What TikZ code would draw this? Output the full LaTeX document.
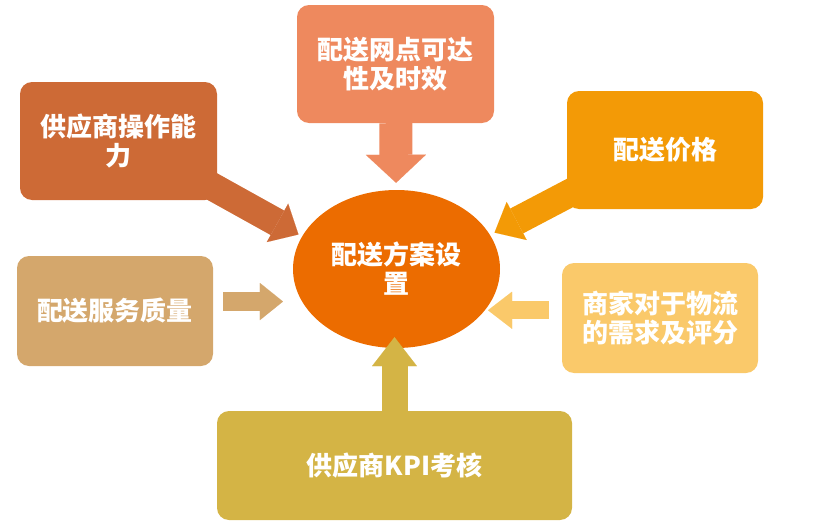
\documentclass[tikz,border=0pt]{standalone}
\usepackage{fontspec}
\newfontfamily\cjk{Noto Sans CJK SC}
\usepackage{tikz}
\usetikzlibrary{arrows.meta,shapes.geometric,backgrounds,calc}
\definecolor{opsc}{RGB}{205,106,54}
\definecolor{netc}{RGB}{238,137,94}
\definecolor{pricec}{RGB}{243,154,6}
\definecolor{demc}{RGB}{250,201,106}
\definecolor{qualc}{RGB}{212,167,108}
\definecolor{kpic}{RGB}{212,180,69}
\definecolor{planc}{RGB}{236,108,0}

\begin{document}
\begin{tikzpicture}[x=1pt,y=-1pt,
    blk/.style n args={4}{draw=#1,line width=#2,
      -{Triangle[width=#3,length=#4,line width=0.01pt]}}]
  \tikzstyle{box}=[rectangle,rounded corners=12pt,text=white,align=center,
    font=\cjk\bfseries\fontsize{26}{29}\selectfont,inner sep=0pt]
  \useasboundingbox (0,0) rectangle (815,530);

  \node[box,fill=opsc,minimum width=197pt,minimum height=118pt] (ops)     at (118.5,141) {供应商操作能\\力};
  \node[box,fill=netc,minimum width=197pt,minimum height=118pt] (net)     at (395.5,64)  {配送网点可达\\性及时效};
  \node[box,fill=pricec,minimum width=196pt,minimum height=118pt] (price) at (665,150)   {配送价格};
  \node[box,fill=demc,minimum width=196pt,minimum height=110pt] (demand)  at (660,318)   {商家对于物流\\的需求及评分};
  \node[box,fill=qualc,minimum width=196pt,minimum height=110pt] (quality) at (115,311)  {配送服务质量};
  \node[box,fill=kpic,minimum width=355pt,minimum height=109pt] (kpi)     at (394.5,465.5) {供应商KPI考核};
  \node[box,ellipse,fill=planc,minimum width=207pt,minimum height=158pt] (plan) at (396.5,269) {配送方案设\\置};

  \begin{scope}[on background layer]
    \draw[blk={opsc}{28pt}{44pt}{24pt},shorten >=4pt] ([shift={(-20pt,22pt)}]ops.south east) -- (plan.161);
    \draw[blk={pricec}{28pt}{43pt}{25pt},shorten >=5pt] ([shift={(18pt,24pt)}]price.south west) -- (plan.20);
  \end{scope}
  \draw[blk={netc}{33pt}{60pt}{28pt},shorten >=7pt] (net) -- (plan);
  \draw[blk={qualc}{19pt}{37pt}{23pt},shorten >=19pt] ($(quality.east |- plan.199)+(10,0)$) -- (plan.199);
  \draw[blk={demc}{18pt}{37pt}{24pt},shorten >=3pt] ($(demand.west |- plan.335)+(-13,0)$) -- (plan.335);
  \draw[blk={kpic}{26pt}{45pt}{29pt},shorten >=-11pt] (kpi.north) -- (kpi.north |- plan.south);
\end{tikzpicture}
\end{document}
